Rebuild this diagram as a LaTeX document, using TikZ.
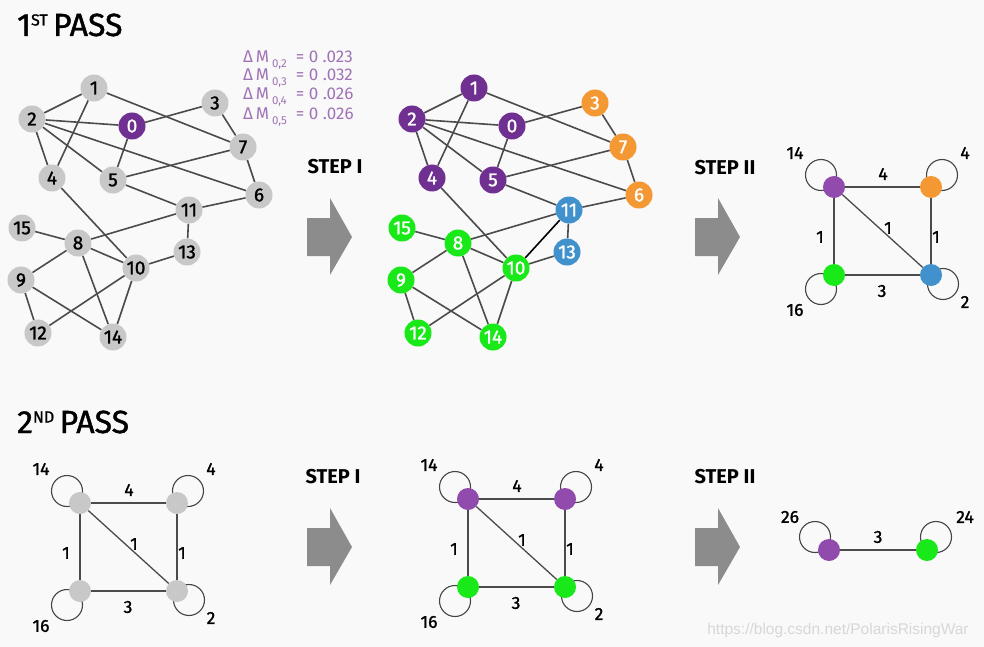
\documentclass[tikz,border=0pt]{standalone}
\usepackage{fontspec}
\setmainfont{Fira Sans}
\newfontfamily\medfont{Fira Sans}[FakeBold=1.3]
\newfontfamily\wmfont{Liberation Sans}
\usetikzlibrary{backgrounds}
\definecolor{bgc}{RGB}{249,249,249}
\definecolor{ngray}{RGB}{200,200,200}
\definecolor{npurple}{RGB}{112,48,145}
\definecolor{spurple}{RGB}{145,75,172}
\definecolor{norange}{RGB}{243,152,50}
\definecolor{nblue}{RGB}{65,145,205}
\definecolor{ngreen}{RGB}{25,232,25}
\definecolor{edgec}{RGB}{75,75,75}
\definecolor{arrowc}{RGB}{140,140,140}
\definecolor{dmc}{RGB}{160,115,182}
\definecolor{wmc}{RGB}{215,215,215}
\tikzset{
  gnode/.style={circle, fill=ngray, minimum size=27pt, inner sep=0pt, text=black,
    font=\medfont\fontsize{19}{19}\selectfont},
  cnode/.style={circle, fill=#1, minimum size=27pt, inner sep=0pt, text=white,
    font=\medfont\fontsize{19}{19}\selectfont},
  snode/.style={circle, fill=#1, minimum size=22pt, inner sep=0pt},
  gedge/.style={draw=edgec, line width=1.6pt},
  sedge/.style={draw=edgec, line width=1.3pt},
  loopst/.style={draw=edgec!90!black, line width=1.1pt},
  wlab/.style={inner sep=0pt, font=\medfont\fontsize{17.5}{17.5}\selectfont},
  steplab/.style={inner sep=0pt, font=\bfseries\fontsize{20}{20}\selectfont},
  titlelab/.style={inner sep=0pt, anchor=base west, font=\medfont\fontsize{32}{32}\selectfont},
  dmlab/.style={inner sep=0pt, anchor=west, text=dmc, font=\fontsize{17}{17}\selectfont},
  bigarrow/.style={fill=arrowc},
}
\newcommand\dmline[2]{Δ\,M\,\raisebox{-0.3em}{\fontsize{11.5}{11.5}\selectfont #1}\ \ = 0 .#2}
\newcommand\sqgraph[7]{%
  \begin{scope}[shift={(#2,#3)}]
    \node[snode=#4] (#1tl) at (0,0) {};
    \node[snode=#5] (#1tr) at (97,0) {};
    \node[snode=#6] (#1bl) at (0,88) {};
    \node[snode=#7] (#1br) at (97,88) {};
    \node[wlab] (#1la) at (-39,-34) {14};
    \node[wlab] (#1lb) at (131,-34) {4};
    \node[wlab] (#1lc) at (-39,123) {16};
    \node[wlab] (#1ld) at (131,115) {2};
    \node[wlab] (#1ea) at (49,-13) {4};
    \node[wlab] (#1eb) at (-14,50) {1};
    \node[wlab] (#1ec) at (102,50) {1};
    \node[wlab] (#1ed) at (54,41) {1};
    \node[wlab] (#1ee) at (48,104) {3};
  \end{scope}
  \begin{scope}[on background layer]
    \draw[loopst] (#1tl) ++(-13,-12) circle[radius=15.5pt];
    \draw[loopst] (#1tr) ++(11,-12) circle[radius=15.5pt];
    \draw[loopst] (#1bl) ++(-13,14) circle[radius=15.5pt];
    \draw[loopst] (#1br) ++(12,9) circle[radius=15.5pt];
    \draw[sedge] (#1tl) -- (#1tr);
    \draw[sedge] (#1tl) -- (#1bl);
    \draw[sedge] (#1tr) -- (#1br);
    \draw[sedge] (#1bl) -- (#1br);
    \draw[sedge] (#1tl) -- (#1br);
  \end{scope}
}
\newcommand\bigarrowat[2]{%
  \fill[bigarrow] (#1,#2) ++(0,-19) -- ++(23,0) -- ++(0,-20) -- ++(22,39) -- ++(-22,38) -- ++(0,-19) -- ++(-23,0) -- cycle;
}
\begin{document}
\begin{tikzpicture}[x=1pt,y=-1pt]
\useasboundingbox (0,0) rectangle (984,647);
\begin{scope}[on background layer]
  \fill[bgc] (0,0) rectangle (984,647);
\end{scope}

% titles
\node[titlelab] (t1) at (17,36) {1\raisebox{10.5pt}{\fontsize{16}{16}\selectfont ST}\,PASS};
\node[titlelab] (t2) at (17,433) {2\raisebox{10.5pt}{\fontsize{16}{16}\selectfont ND}\,PASS};

% delta M
\node[dmlab] (dm2) at (243,60) {\dmline{0,2}{023}};
\node[dmlab] (dm3) at (243,78) {\dmline{0,3}{032}};
\node[dmlab] (dm4) at (243,97) {\dmline{0,4}{026}};
\node[dmlab] (dm5) at (243,117) {\dmline{0,5}{026}};

% graph 1
\node[gnode] (a1) at (94,88) {1};
\node[gnode] (a2) at (32,119) {2};
\node[cnode=npurple] (a0) at (132,126) {0};
\node[gnode] (a3) at (215,103) {3};
\node[gnode] (a7) at (243,147) {7};
\node[gnode] (a4) at (52,178) {4};
\node[gnode] (a5) at (113,180) {5};
\node[gnode] (a6) at (259,195) {6};
\node[gnode] (a11) at (189,210) {11};
\node[gnode] (a15) at (22,228) {15};
\node[gnode] (a8) at (78,243) {8};
\node[gnode] (a13) at (187,252) {13};
\node[gnode] (a10) at (136,268) {10};
\node[gnode] (a9) at (21,280) {9};
\node[gnode] (a12) at (38,333) {12};
\node[gnode] (a14) at (113,337) {14};

% graph 2
\begin{scope}[shift={(380,0)}]
\node[cnode=npurple] (b1) at (94,88) {1};
\node[cnode=npurple] (b2) at (32,119) {2};
\node[cnode=npurple] (b0) at (132,126) {0};
\node[cnode=norange] (b3) at (215,103) {3};
\node[cnode=norange] (b7) at (243,147) {7};
\node[cnode=npurple] (b4) at (52,178) {4};
\node[cnode=npurple] (b5) at (113,180) {5};
\node[cnode=norange] (b6) at (259,195) {6};
\node[cnode=nblue] (b11) at (189,210) {11};
\node[cnode=ngreen] (b15) at (22,228) {15};
\node[cnode=ngreen] (b8) at (78,243) {8};
\node[cnode=nblue] (b13) at (187,252) {13};
\node[cnode=ngreen] (b10) at (136,268) {10};
\node[cnode=ngreen] (b9) at (21,280) {9};
\node[cnode=ngreen] (b12) at (38,333) {12};
\node[cnode=ngreen] (b14) at (113,337) {14};
\end{scope}

\begin{scope}[on background layer]
\foreach \u/\v in {1/2,1/4,1/7,2/0,2/4,2/5,2/6,0/3,0/5,3/7,7/5,7/6,5/11,6/11,11/8,11/13,4/10,15/8,8/9,8/10,8/14,13/10,10/12,10/14,9/12,9/14}{
  \draw[gedge] (a\u) -- (a\v);
  \draw[gedge] (b\u) -- (b\v);
}
\draw[black, line width=1.6pt] (b11) -- (b10);
\end{scope}

% step labels and arrows
\node[steplab] (s1) at (335,167) {STEP I};
\node[steplab] (s2) at (725,168) {STEP II};
\node[steplab] (s3) at (333,477) {STEP I};
\node[steplab] (s4) at (725,477) {STEP II};
\bigarrowat{307}{237}
\bigarrowat{695}{237}
\bigarrowat{307}{547}
\bigarrowat{695}{547}

% square graphs
\sqgraph{p}{834}{187}{spurple}{norange}{ngreen}{nblue}
\sqgraph{q}{80}{503}{ngray}{ngray}{ngray}{ngray}
\sqgraph{r}{468}{499}{spurple}{spurple}{ngreen}{ngreen}

% final graph
\node[snode=spurple] (fa) at (829,550) {};
\node[snode=ngreen] (fb) at (927,550) {};
\node[wlab] (fla) at (790,517) {26};
\node[wlab] (flb) at (965,517) {24};
\node[wlab] (fle) at (878,537) {3};
\begin{scope}[on background layer]
  \draw[loopst] (fa) ++(-14,-13) circle[radius=15.5pt];
  \draw[loopst] (fb) ++(9,-13) circle[radius=15.5pt];
  \draw[sedge] (fa) -- (fb);
\end{scope}

% watermark
\node[inner sep=0pt, text=wmc, font=\wmfont\fontsize{15.5}{15.5}\selectfont] (wm) at (838,630) {https://blog.csdn.net/PolarisRisingWar};
\end{tikzpicture}
\end{document}
